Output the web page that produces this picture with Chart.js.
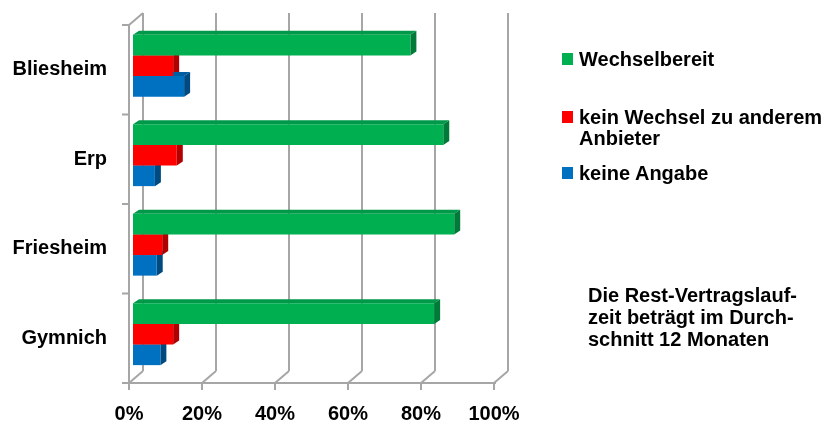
<!DOCTYPE html>
<html>
<head>
<meta charset="utf-8">
<script src="https://cdn.jsdelivr.net/npm/chart.js@4"></script>
<style>
  body { margin: 0; background: #fff; }
  #wrap { position: relative; width: 837px; height: 427px; overflow: hidden;
          font-family: "Liberation Sans", Arial, sans-serif; font-weight: bold; font-size: 20px; color: #000; }
  #chartCanvas { display: block; }
  #legend .item { position: absolute; left: 562px; width: 275px; line-height: 21px; }
  #legend .box { position: absolute; left: 0; top: 4px; width: 11px; height: 12px; }
  #legend .txt { position: absolute; left: 17px; width: 262px; }
  #note { position: absolute; left: 588px; top: 284px; line-height: 22px; white-space: nowrap; }
</style>
</head>
<body>
<div id="wrap">
  <canvas id="chartCanvas" width="837" height="427"></canvas>
  <div id="legend"></div>
  <div id="note">Die Rest-Vertragslauf-<br>zeit beträgt im Durch-<br>schnitt 12 Monaten</div>
</div>
<script>
// Daten
var orte = ['Bliesheim', 'Erp', 'Friesheim', 'Gymnich'];
var wechselbereit = [76, 85, 88, 82.5];
var keinWechsel = [11, 12, 8, 11];
var keineAngabe = [14, 6, 6.5, 7.5];
var xTicks = [0, 20, 40, 60, 80, 100];

// 3D Tiefe der Balken / des Rasters
var barDepth = { x: 6, y: 4 };
var wallDepth = { x: 14, y: 12 };
var planeShift = 4; // Abstand Balkenebene -> Vorderkante

var gridPlugin = {
  id: 'grid3d',
  beforeDatasetsDraw: function (chart) {
    var ctx = chart.ctx, xs = chart.scales.x, ys = chart.scales.y, area = chart.chartArea;
    var frontTop = area.top + planeShift, frontBottom = area.bottom + planeShift;
    var backTop = frontTop - wallDepth.y, backBottom = frontBottom - wallDepth.y;
    ctx.save();
    ctx.strokeStyle = '#a6a6a6';
    ctx.lineWidth = 2;
    ctx.beginPath();
    xTicks.forEach(function (v) {
      var fx = xs.getPixelForValue(v) - planeShift;
      // Rückwand
      ctx.moveTo(fx + wallDepth.x, backTop);
      ctx.lineTo(fx + wallDepth.x, backBottom);
      // Boden
      ctx.moveTo(fx, frontBottom);
      ctx.lineTo(fx + wallDepth.x, backBottom);
      ctx.moveTo(fx, frontBottom);
      ctx.lineTo(fx, frontBottom + 7);
    });
    var x0 = xs.getPixelForValue(0) - planeShift;
    var x1 = xs.getPixelForValue(100) - planeShift;
    // Seitenwand
    ctx.moveTo(x0, frontTop);
    ctx.lineTo(x0, frontBottom);
    ctx.moveTo(x0, frontTop);
    ctx.lineTo(x0 + wallDepth.x, backTop);
    ctx.moveTo(x0 - 7, frontBottom);
    ctx.lineTo(x1 + 2, frontBottom);
    var band = ys.getPixelForValue(1) - ys.getPixelForValue(0);
    for (var i = 0; i < orte.length; i++) {
      var yb = ys.getPixelForValue(i) - band / 2 + planeShift;
      ctx.moveTo(x0 - 7, yb);
      ctx.lineTo(x0, yb);
    }
    ctx.stroke();
    ctx.restore();
  }
};

var barsPlugin = {
  id: 'bars3d',
  beforeDatasetsDraw: function (chart) {
    var ctx = chart.ctx;
    ctx.save();
    chart.data.datasets.forEach(function (ds, i) {
      chart.getDatasetMeta(i).data.forEach(function (bar) {
        var p = bar.getProps(['x', 'y', 'base', 'height'], true);
        var top = p.y - p.height / 2, bottom = p.y + p.height / 2;
        var left = Math.min(p.x, p.base), right = Math.max(p.x, p.base);
        ctx.fillStyle = ds.topColor;
        ctx.beginPath();
        ctx.moveTo(left, top);
        ctx.lineTo(right, top);
        ctx.lineTo(right + barDepth.x, top - barDepth.y);
        ctx.lineTo(left + barDepth.x, top - barDepth.y);
        ctx.closePath();
        ctx.fill();
        ctx.fillStyle = ds.sideColor;
        ctx.beginPath();
        ctx.moveTo(right, top);
        ctx.lineTo(right + barDepth.x, top - barDepth.y);
        ctx.lineTo(right + barDepth.x, bottom - barDepth.y);
        ctx.lineTo(right, bottom);
        ctx.closePath();
        ctx.fill();
      });
    });
    ctx.restore();
  }
};

Chart.defaults.font.family = '"Liberation Sans", Arial, sans-serif';
Chart.defaults.color = '#000';

var chart = new Chart(document.getElementById('chartCanvas').getContext('2d'), {
  type: 'bar',
  data: {
    labels: orte,
    datasets: [
      { label: 'Wechselbereit', data: wechselbereit, backgroundColor: '#00b050', topColor: '#00994a', sideColor: '#007a38' },
      { label: 'kein Wechsel zu anderem Anbieter', data: keinWechsel, backgroundColor: '#ff0000', topColor: '#d90000', sideColor: '#b00000' },
      { label: 'keine Angabe', data: keineAngabe, backgroundColor: '#0070c0', topColor: '#005fa3', sideColor: '#004a80' }
    ]
  },
  options: {
    indexAxis: 'y',
    responsive: false,
    maintainAspectRatio: false,
    animation: false,
    events: [],
    layout: { padding: { top: 21, right: 339, bottom: 0, left: 0 } },
    datasets: { bar: { categoryPercentage: 0.69, barPercentage: 1, borderWidth: 0 } },
    plugins: { legend: { display: false }, tooltip: { enabled: false } },
    scales: {
      x: {
        min: 0, max: 100,
        afterBuildTicks: function (scale) {
          scale.ticks = xTicks.map(function (v) { return { value: v }; });
        },
        grid: { display: false, drawTicks: false },
        border: { display: false },
        ticks: {
          autoSkip: false, maxRotation: 0, padding: 23, labelOffset: -planeShift,
          font: { size: 20, weight: 'bold' },
          callback: function (v) { return v + '%'; }
        },
        afterFit: function (scale) { scale.height = 48; }
      },
      y: {
        grid: { display: false, drawTicks: false },
        border: { display: false },
        ticks: { padding: 26, labelOffset: planeShift, font: { size: 20, weight: 'bold' } },
        afterFit: function (scale) {
          scale.width = 133;
          scale.paddingTop = 0;
          scale.paddingBottom = 0;
        }
      }
    }
  },
  plugins: [gridPlugin, barsPlugin]
});

// HTML-Legende aus den Datensätzen
var legendTops = [49, 107, 163];
var legendEl = document.getElementById('legend');
chart.data.datasets.forEach(function (ds, i) {
  var item = document.createElement('div');
  item.className = 'item';
  item.style.top = legendTops[i] + 'px';
  item.innerHTML = '<span class="box" style="background:' + ds.backgroundColor + '"></span>' +
                   '<span class="txt">' + ds.label + '</span>';
  legendEl.appendChild(item);
});
</script>
</body>
</html>
